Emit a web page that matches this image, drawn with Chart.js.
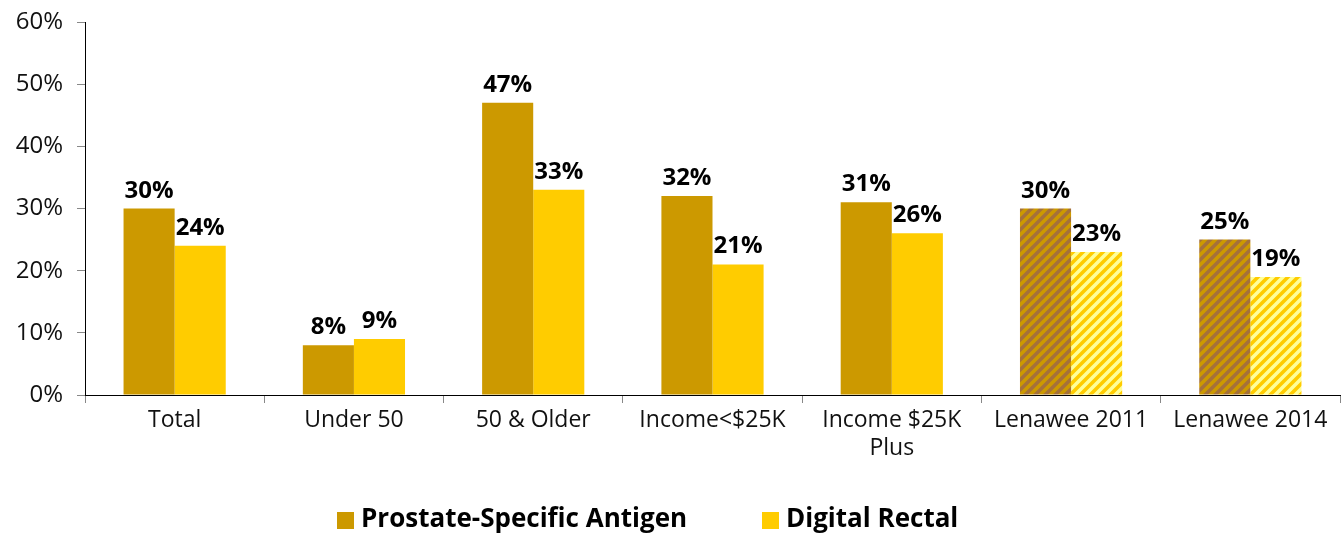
<!DOCTYPE html>
<html>
<head>
<meta charset="utf-8">
<script src="https://cdn.jsdelivr.net/npm/chart.js@4.4.1/dist/chart.umd.min.js"></script>
<style>
html,body{margin:0;padding:0;background:#fff;}
#wrap{width:1344px;height:535px;position:relative;}
</style>
</head>
<body>
<div id="wrap"><canvas id="c" width="1344" height="535"></canvas></div>
<script>
const categories = ['Total', 'Under 50', '50 & Older', 'Income<$25K', ['Income $25K', 'Plus'], 'Lenawee 2011', 'Lenawee 2014'];
const psaValues = [30, 8, 47, 32, 31, 30, 25];
const drValues = [24, 9, 33, 21, 26, 23, 19];
const hatched = [false, false, false, false, false, true, true];
const seriesNames = ['Prostate-Specific Antigen', 'Digital Rectal'];
const yTickValues = [0, 10, 20, 30, 40, 50, 60];

const FONT = "'Open Sans', 'Noto Sans', sans-serif";

function stripePattern(base, stripe) {
  const s = 10;
  const t = document.createElement('canvas');
  t.width = s; t.height = s;
  const g = t.getContext('2d');
  g.fillStyle = base; g.fillRect(0, 0, s, s);
  g.strokeStyle = stripe; g.lineWidth = 3.5;
  g.beginPath();
  g.moveTo(-3, 3); g.lineTo(3, -3);
  g.moveTo(0, s); g.lineTo(s, 0);
  g.moveTo(s - 3, s + 3); g.lineTo(s + 3, s - 3);
  g.stroke();
  return document.getElementById('c').getContext('2d').createPattern(t, 'repeat');
}

const psaColor = '#CC9900', drColor = '#FFCC00';
const psaHatch = stripePattern(psaColor, '#A5713A');
const drHatch = stripePattern(drColor, '#FFFF99');

const valueLabels = {
  id: 'valueLabels',
  afterDatasetsDraw(chart) {
    const ctx = chart.ctx;
    ctx.save();
    ctx.font = "bold 24px " + FONT;
    ctx.fillStyle = '#000';
    ctx.textAlign = 'center';
    ctx.textBaseline = 'alphabetic';
    chart.data.datasets.forEach((ds, i) => {
      chart.getDatasetMeta(i).data.forEach((bar, j) => {
        ctx.fillText(ds.data[j] + '%', bar.x, bar.y - 11);
      });
    });
    ctx.restore();
  }
};

const customLegend = {
  id: 'customLegend',
  afterDraw(chart) {
    const ctx = chart.ctx;
    ctx.save();
    ctx.font = "bold 26px " + FONT;
    ctx.textBaseline = 'middle';
    ctx.textAlign = 'left';
    const starts = [337, 762];
    const cy = 520;
    chart.data.datasets.forEach((ds, i) => {
      const x = starts[i];
      ctx.fillStyle = ds.legendColor;
      ctx.fillRect(x, cy - 8, 17, 17);
      ctx.fillStyle = '#000';
      ctx.fillText(ds.label, x + 24, cy);
    });
    ctx.restore();
  }
};

new Chart(document.getElementById('c'), {
  type: 'bar',
  data: {
    labels: categories,
    datasets: [
      {
        label: seriesNames[0],
        data: psaValues,
        legendColor: psaColor,
        backgroundColor: hatched.map(h => h ? psaHatch : psaColor),
        borderWidth: 0
      },
      {
        label: seriesNames[1],
        data: drValues,
        legendColor: drColor,
        backgroundColor: hatched.map(h => h ? drHatch : drColor),
        borderWidth: 0
      }
    ]
  },
  options: {
    responsive: false,
    animation: false,
    layout: { padding: { top: 22, right: 4, left: 0, bottom: 0 } },
    plugins: {
      legend: { display: false },
      tooltip: { enabled: false }
    },
    datasets: { bar: { categoryPercentage: 0.57, barPercentage: 1.0 } },
    scales: {
      x: {
        grid: { display: true, drawOnChartArea: false, drawTicks: true, tickLength: 8, color: '#888', offset: true },
        border: { display: true, color: '#000', width: 1 },
        ticks: { color: '#111', font: { family: FONT, size: 23 }, padding: 4, maxRotation: 0, autoSkip: false },
        afterFit(scale) { scale.height = 140; scale.paddingLeft = 0; scale.paddingRight = 0; }
      },
      y: {
        min: 0, max: 60,
        afterBuildTicks(scale) { scale.ticks = yTickValues.map(v => ({ value: v })); },
        grid: { display: true, drawOnChartArea: false, drawTicks: true, tickLength: 8, color: '#888' },
        border: { display: true, color: '#000', width: 1 },
        ticks: { color: '#111', font: { family: FONT, size: 24 }, padding: 14, callback: v => v + '%' },
        afterFit(scale) { scale.width = 85; scale.paddingTop = 0; scale.paddingBottom = 0; }
      }
    }
  },
  plugins: [valueLabels, customLegend]
});
</script>
</body>
</html>
